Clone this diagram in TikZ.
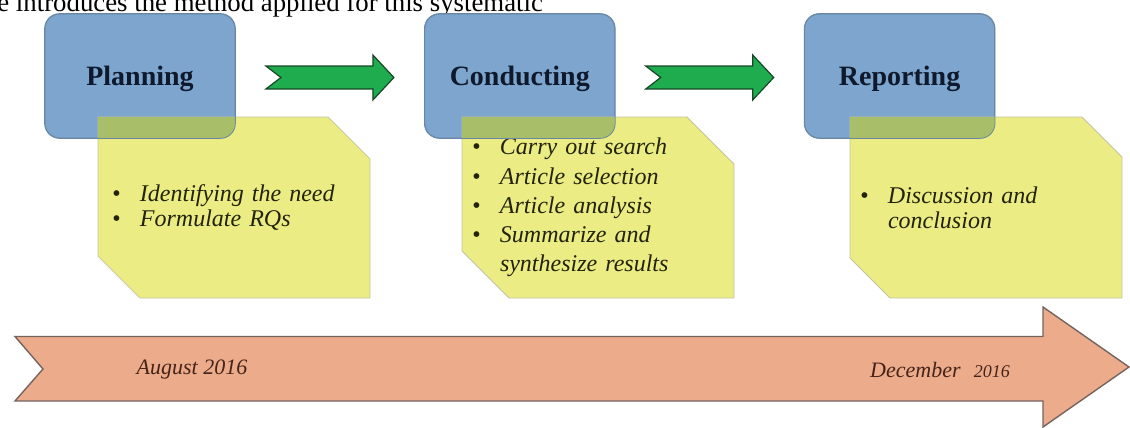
\documentclass[tikz,border=0pt]{standalone}
\usepackage{fontspec}
\setmainfont{Liberation Serif}
\usetikzlibrary{positioning,calc,shapes.misc}
\definecolor{phaseblue}{RGB}{125,165,205}
\definecolor{phaseline}{RGB}{105,135,165}
\definecolor{phasetext}{RGB}{15,25,45}
\definecolor{noteyellow}{RGB}{236,236,132}
\definecolor{notegray}{RGB}{195,195,160}
\definecolor{notetext}{RGB}{35,35,10}
\definecolor{overlap}{RGB}{168,190,104}
\definecolor{flowgreen}{RGB}{30,172,78}
\definecolor{flowdark}{RGB}{25,70,40}
\definecolor{timesalmon}{RGB}{236,172,140}
\definecolor{timeborder}{RGB}{115,100,95}
\definecolor{datetext}{RGB}{70,35,25}
\tikzset{
	phase/.style={rectangle, rounded corners=7.5pt, minimum width=95pt, minimum height=62pt, text depth=0pt, fill=phaseblue, draw=phaseline, text=phasetext, font=\fontsize{14}{16}\selectfont\bfseries},
	note/.style={chamfered rectangle, chamfered rectangle corners={north east, south west}, chamfered rectangle xsep=12pt, chamfered rectangle ysep=11.5pt, minimum width=136pt, minimum height=90.5pt, inner xsep=-7pt, inner ysep=-2pt, text width=126pt, align=left, fill=noteyellow, draw=notegray, line width=0.4pt, text=notetext, font=\fontsize{12}{12.5}\selectfont\itshape},
	timeline/.style={fill=timesalmon, draw=timeborder, line width=0.7pt},
	date/.style={text=datetext, font=\fontsize{11}{13}\selectfont\itshape},
	caption/.style={inner sep=0pt, font=\fontsize{13.4}{15}\selectfont}
}
\newcommand{\bitem}[1]{\makebox[14pt][l]{\textbullet}#1}
\newcommand{\bcont}[1]{\hspace*{14pt}#1}

\begin{document}
\begin{tikzpicture}[x=0.5pt, y=-0.5pt, node distance=94.5pt,
	flow/.style={fill=flowgreen, draw=flowdark, line width=0.6pt}]
\useasboundingbox (0,0) rectangle (1130,428);
\node[caption, anchor=base west] (cap) at (-3,11.5) {e introduces the method applied for this systematic};

% time line
\draw[timeline] (15,336.5) -- (1043,336.5) -- (1043,307) -- (1129,367) -- (1043,427) -- (1043,401) -- (15,401) -- (43,369) -- cycle;
\node[date] (start) at (192,370) {August 2016};
\node[date] (end) at (940,370) {December\hspace{0.6em}{\fontsize{9}{9}\selectfont 2016}};

\node[phase] (plan) at (140,76) {Planning};
\node[phase] (cond) [right=of plan] {Conducting};
\node[phase] (rep) [right=of cond] {Reporting};

\node[note, inner xsep=-5pt, text width=122pt] (need) at (234,207.5) {\bitem{Identifying the need}\\ \bitem{Formulate RQs}};
\node[note, font=\fontsize{12}{14.6}\selectfont\itshape] (search) at (598,207.5) {\bitem{Carry out search}\\ \bitem{Article selection}\\ \bitem{Article analysis}\\ \bitem{Summarize and}\\ \bcont{synthesize results}};
\node[note] (concl) at (986,207.5) {\bitem{Discussion and}\\ \bcont{conclusion}};

% yellow over blue
\foreach \p/\n in {plan/need, cond/search, rep/concl} {
	\begin{scope}
		\clip[rounded corners=7.5pt] (\p.south west) rectangle (\p.north east);
		\fill[overlap] (\n.west |- \n.north) rectangle (\p.south east);
	\end{scope}
	\draw[phaseline, rounded corners=7.5pt] (\p.south west) rectangle (\p.north east);
}

\coordinate (a1) at ($(plan.east)!0.5!(cond.west)$);
\coordinate (a2) at ($(cond.east)!0.5!(rep.west)$);
\foreach \a in {a1,a2}
	\draw[flow] ([shift={(-64,-10)}]\a) -- ([shift={(43,-10)}]\a) -- ([shift={(43,-21)}]\a) -- ([shift={(64,1.5)}]\a) -- ([shift={(43,24)}]\a) -- ([shift={(43,13)}]\a) -- ([shift={(-64,13)}]\a) -- ([shift={(-49,1.5)}]\a) -- cycle;
\end{tikzpicture}
\end{document}
